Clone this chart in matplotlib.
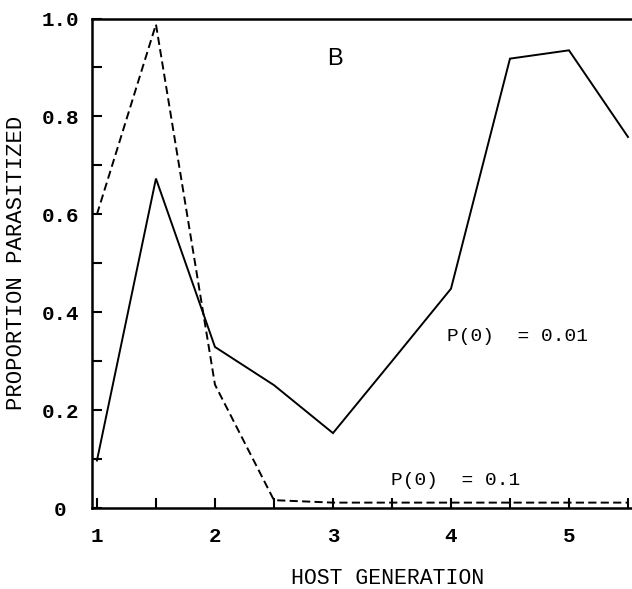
import matplotlib
matplotlib.use("Agg")
import matplotlib.pyplot as plt
from matplotlib.ticker import FixedLocator

# Data
generation = [1, 1.5, 2, 2.5, 3, 3.5, 4, 4.5, 5, 5.5]
p001 = [0.097, 0.673, 0.329, 0.251, 0.153, 0.30, 0.448, 0.918, 0.935, 0.758]
p01 = [0.60, 0.988, 0.252, 0.016, 0.011, 0.011, 0.011, 0.011, 0.011, 0.011]

xticks = [1, 2, 3, 4, 5]
xticklabels = ["1", "2", "3", "4", "5"]
yticks = [0, 0.2, 0.4, 0.6, 0.8, 1.0]
yticklabels = ["0", "0.2", "0.4", "0.6", "0.8", "1.0"]

mono = "Liberation Mono"

fig = plt.figure(figsize=(6.32, 5.89), dpi=100)
W, H = 632, 589
ax = fig.add_axes([92 / W, 1 - 508 / H, 540 / W, (508 - 18.5) / H])

ax.plot(generation, p001, color="black", lw=1.4, solid_joinstyle="miter")
ax.plot(generation, p01, color="black", lw=1.4, linestyle=(0, (4.2, 2.2)))

ax.set_xlim(0.958, 5.534)
ax.set_ylim(0, 1.0)

ax.spines["right"].set_visible(False)
for s in ["left", "bottom", "top"]:
    ax.spines[s].set_linewidth(1.8)

ax.xaxis.set_major_locator(FixedLocator(xticks))
ax.set_xticklabels(xticklabels)
ax.xaxis.set_minor_locator(FixedLocator([1.5, 2.5, 3.5, 4.5, 5.5]))
ax.yaxis.set_major_locator(FixedLocator(yticks))
ax.set_yticklabels(yticklabels)
ax.yaxis.set_minor_locator(FixedLocator([0.1, 0.3, 0.5, 0.7, 0.9]))

ax.tick_params(axis="both", which="both", direction="in", length=7.5, width=1.5,
               top=False, right=False)
ax.tick_params(axis="x", which="major", pad=14)
ax.tick_params(axis="y", which="major", pad=23)

for lab in ax.get_xticklabels() + ax.get_yticklabels():
    lab.set_fontfamily(mono)
    lab.set_fontsize(15)
    lab.set_fontweight("bold")
for lab in ax.get_yticklabels():
    lab.set_horizontalalignment("center")

ax.set_ylabel("PROPORTION PARASITIZED", fontfamily=mono, fontsize=16, labelpad=0)
ax.yaxis.set_label_coords(-(92 - 27) / 540, 0.5)
fig.text(388 / W, 1 - 579 / H, "HOST GENERATION", fontfamily=mono, fontsize=15.5,
         ha="center", va="center")

ax.text(3.02, 0.918, "B", fontfamily="Liberation Sans", fontsize=17,
        ha="center", va="center")
ax.text(3.97, 0.351, "P(0)  = 0.01", fontfamily=mono, fontsize=14,
        ha="left", va="center")
ax.text(3.49, 0.057, "P(0)  = 0.1", fontfamily=mono, fontsize=14,
        ha="left", va="center")

fig.savefig("out.png", dpi=100)
